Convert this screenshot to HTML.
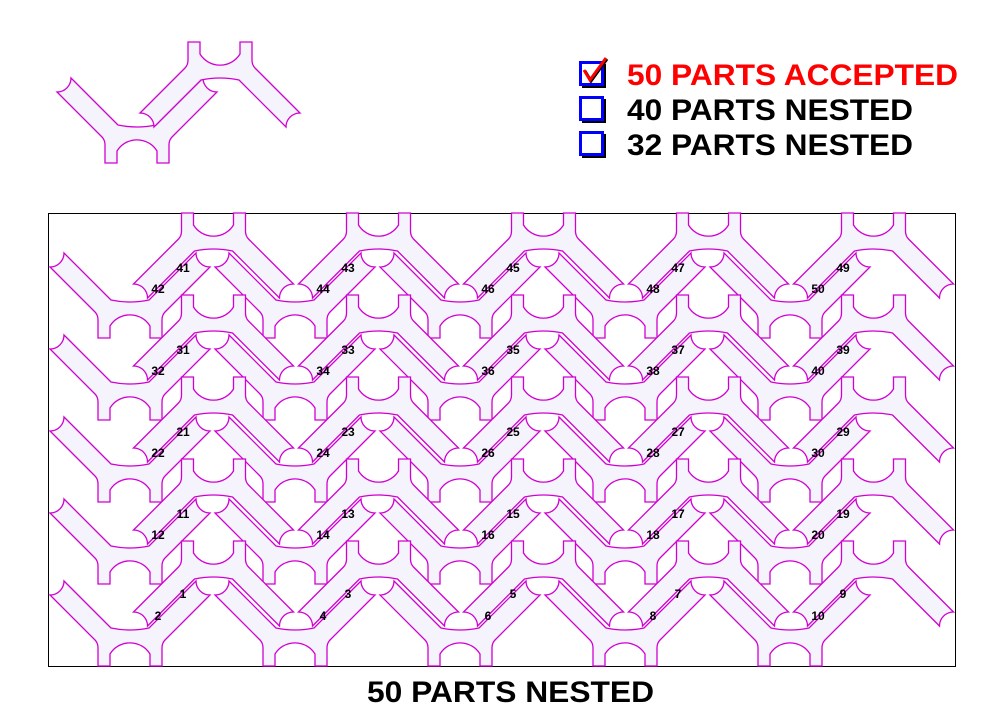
<!DOCTYPE html>
<html><head><meta charset="utf-8"><style>
html,body{margin:0;padding:0;background:#fff;width:1005px;height:709px;overflow:hidden}
svg{display:block}
.lb{font-family:"Liberation Sans",sans-serif;font-weight:bold;font-size:12px;fill:#000;text-anchor:middle}
.lg{font-family:"Liberation Sans",sans-serif;font-weight:bold;font-size:30px}
</style></head><body>
<svg width="1005" height="709" viewBox="0 0 1005 709" xmlns="http://www.w3.org/2000/svg">
<defs>
<path id="V" d="M -80,-71 A 14 14 0 0 0 -66,-85 L -19,-38 Q 0,-34 19,-38 L 66,-85 A 14 14 0 0 0 80,-71 L 35,-26 Q 32,-23 32,-18 L 32,0 L 20,0 L 20,-12 A 23.5 23.5 0 0 0 -20,-12 L -20,0 L -32,0 L -32,-18 Q -32,-23 -35,-26 Z" fill="#f5f3fc" stroke="#d000d0" stroke-width="1.3"/>
<g id="row">
<use href="#V" transform="translate(130,338)"/>
<use href="#V" transform="translate(295,338)"/>
<use href="#V" transform="translate(460,338)"/>
<use href="#V" transform="translate(625,338)"/>
<use href="#V" transform="translate(790,338)"/>
<use href="#V" transform="translate(213.5,213) scale(1,-1)"/>
<use href="#V" transform="translate(378.5,213) scale(1,-1)"/>
<use href="#V" transform="translate(543.5,213) scale(1,-1)"/>
<use href="#V" transform="translate(708.5,213) scale(1,-1)"/>
<use href="#V" transform="translate(873.5,213) scale(1,-1)"/>
</g>
</defs>

<use href="#V" transform="translate(137,163)"/>
<use href="#V" transform="translate(220,42) scale(1,-1)"/>

<rect x="582" y="64" width="24" height="24" fill="#000"/>
<rect x="580.5" y="62.5" width="22" height="22" fill="#fff" stroke="#0000ff" stroke-width="3"/>
<path d="M584,70 L590,80 L606,58" fill="none" stroke="#000" stroke-width="3" transform="translate(1,1)"/>
<path d="M584,70 L590,80 L606,58" fill="none" stroke="#ff0000" stroke-width="3"/>
<rect x="582" y="99" width="24" height="24" fill="#000"/>
<rect x="580.5" y="97.5" width="22" height="22" fill="#fff" stroke="#0000ff" stroke-width="3"/>
<rect x="582" y="134" width="24" height="24" fill="#000"/>
<rect x="580.5" y="132.5" width="22" height="22" fill="#fff" stroke="#0000ff" stroke-width="3"/>
<text class="lg" x="627" y="85" fill="#ff0000" textLength="331" lengthAdjust="spacingAndGlyphs">50 PARTS ACCEPTED</text>
<text class="lg" x="627" y="120" fill="#000" textLength="286" lengthAdjust="spacingAndGlyphs">40 PARTS NESTED</text>
<text class="lg" x="627" y="155" fill="#000" textLength="286" lengthAdjust="spacingAndGlyphs">32 PARTS NESTED</text>

<rect x="48.5" y="213.5" width="907" height="453" fill="#fff" stroke="#000" stroke-width="1"/>
<use href="#row"/>
<use href="#row" transform="translate(0,82)"/>
<use href="#row" transform="translate(0,164)"/>
<use href="#row" transform="translate(0,246)"/>
<use href="#row" transform="translate(0,328)"/>

<text class="lb" x="183" y="272">41</text><text class="lb" x="158" y="293">42</text>
<text class="lb" x="348" y="272">43</text><text class="lb" x="323" y="293">44</text>
<text class="lb" x="513" y="272">45</text><text class="lb" x="488" y="293">46</text>
<text class="lb" x="678" y="272">47</text><text class="lb" x="653" y="293">48</text>
<text class="lb" x="843" y="272">49</text><text class="lb" x="818" y="293">50</text>

<text class="lb" x="183" y="354">31</text><text class="lb" x="158" y="375">32</text>
<text class="lb" x="348" y="354">33</text><text class="lb" x="323" y="375">34</text>
<text class="lb" x="513" y="354">35</text><text class="lb" x="488" y="375">36</text>
<text class="lb" x="678" y="354">37</text><text class="lb" x="653" y="375">38</text>
<text class="lb" x="843" y="354">39</text><text class="lb" x="818" y="375">40</text>

<text class="lb" x="183" y="436">21</text><text class="lb" x="158" y="457">22</text>
<text class="lb" x="348" y="436">23</text><text class="lb" x="323" y="457">24</text>
<text class="lb" x="513" y="436">25</text><text class="lb" x="488" y="457">26</text>
<text class="lb" x="678" y="436">27</text><text class="lb" x="653" y="457">28</text>
<text class="lb" x="843" y="436">29</text><text class="lb" x="818" y="457">30</text>

<text class="lb" x="183" y="518">11</text><text class="lb" x="158" y="539">12</text>
<text class="lb" x="348" y="518">13</text><text class="lb" x="323" y="539">14</text>
<text class="lb" x="513" y="518">15</text><text class="lb" x="488" y="539">16</text>
<text class="lb" x="678" y="518">17</text><text class="lb" x="653" y="539">18</text>
<text class="lb" x="843" y="518">19</text><text class="lb" x="818" y="539">20</text>

<text class="lb" x="183" y="598">1</text><text class="lb" x="158" y="620">2</text>
<text class="lb" x="348" y="598">3</text><text class="lb" x="323" y="620">4</text>
<text class="lb" x="513" y="598">5</text><text class="lb" x="488" y="620">6</text>
<text class="lb" x="678" y="598">7</text><text class="lb" x="653" y="620">8</text>
<text class="lb" x="843" y="598">9</text><text class="lb" x="818" y="620">10</text>

<text x="367" y="702" textLength="287" lengthAdjust="spacingAndGlyphs" style="font-family:'Liberation Sans',sans-serif;font-weight:bold;font-size:30px" fill="#000">50 PARTS NESTED</text>
</svg>
</body></html>
